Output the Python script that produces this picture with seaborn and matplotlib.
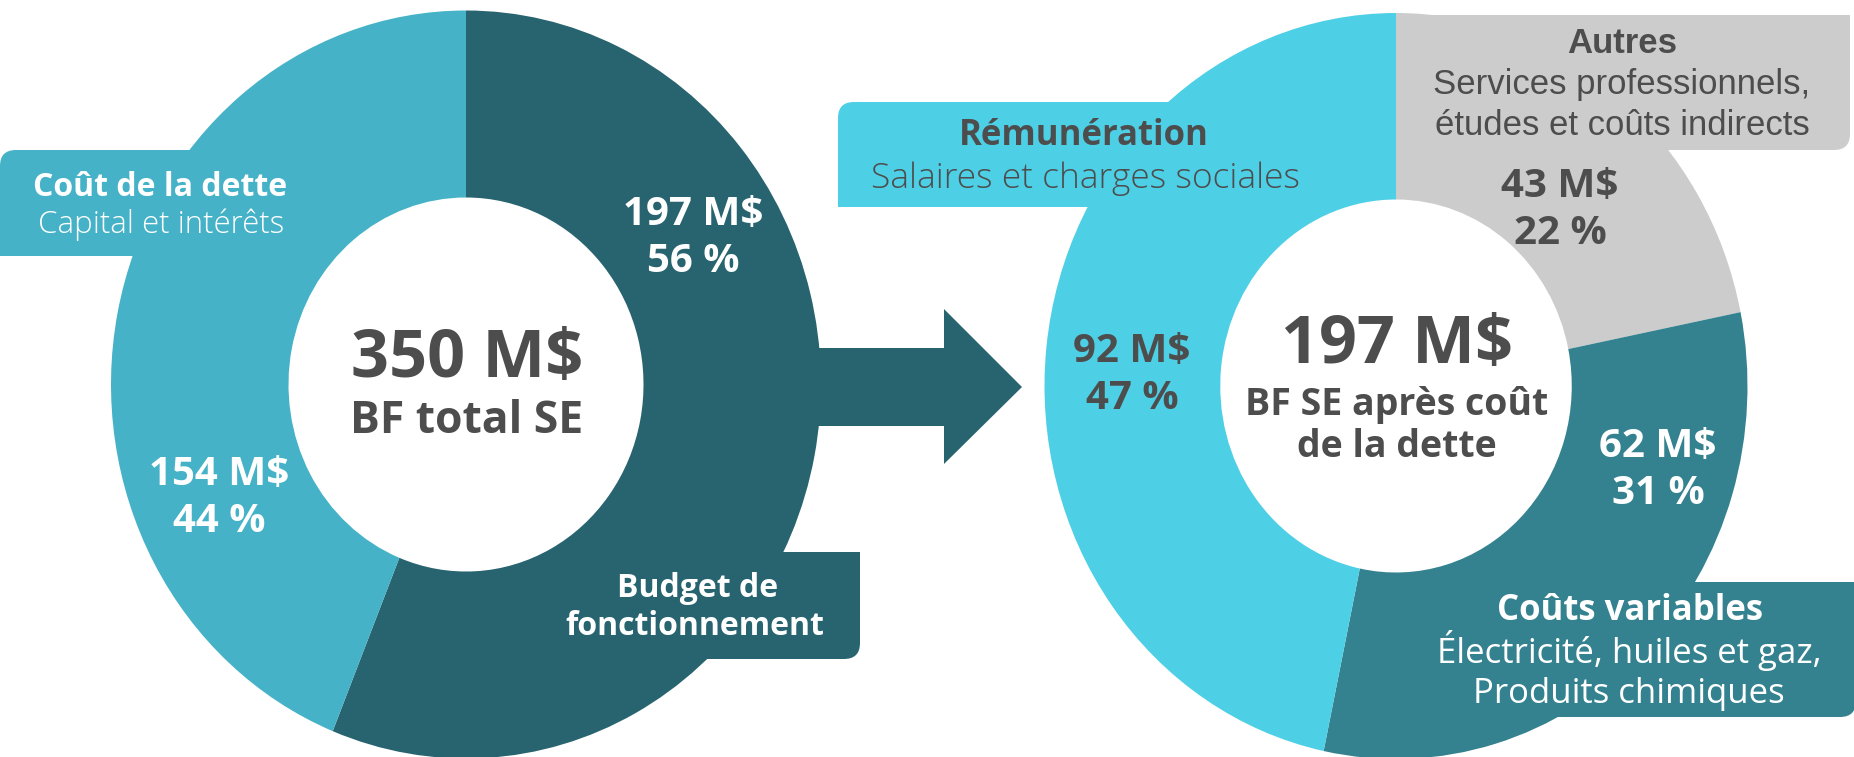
import matplotlib
matplotlib.use("Agg")
import matplotlib.pyplot as plt
import seaborn as sns
from matplotlib.patches import FancyBboxPatch, Rectangle, Polygon

# data
left_names = ["Budget de fonctionnement", "Coût de la dette"]
left_values = [197, 154]
left_pct = [56, 44]
left_total = 350

right_names = ["Autres", "Coûts variables", "Rémunération"]
right_values = [43, 62, 92]
right_pct = [22, 31, 47]
right_total = 197

W, H = 1854, 757
DARK_TXT = "#4d4d4d"

sns.set_theme(style="white")
plt.rcParams["font.family"] = ["Open Sans", "DejaVu Sans"]

left_colors = sns.color_palette(["#28646f", "#45b2c8"])
right_colors = sns.color_palette(["#cccccc", "#34828f", "#4dcfe6"])

fig = plt.figure(figsize=(W / 100, H / 100), dpi=100)
fig.patch.set_facecolor("white")

bg = fig.add_axes([0, 0, 1, 1], zorder=0)
bg.set_xlim(0, W)
bg.set_ylim(H, 0)
bg.axis("off")


def label_box(ax, x0, y0, x1, y1, color, corner, r=16):
    # rounded box with only one rounded corner
    ax.add_patch(FancyBboxPatch((x0, y0), x1 - x0, y1 - y0,
                                boxstyle=f"round,pad=0,rounding_size={r}",
                                fc=color, ec="none"))
    top = corner in ("tl", "tr")
    left = corner in ("tl", "bl")
    ya = y0 + r if top else y0
    ax.add_patch(Rectangle((x0, ya), x1 - x0, y1 - y0 - r, fc=color, ec="none"))
    xa = x0 + r if left else x0
    ax.add_patch(Rectangle((xa, y0), x1 - x0 - r, y1 - y0, fc=color, ec="none"))


label_box(bg, 0, 150, 260, 256, left_colors[1], "tl")
label_box(bg, 650, 552, 860, 659, left_colors[0], "br")
label_box(bg, 838, 102, 1200, 207, right_colors[2], "tl")
label_box(bg, 1396, 15, 1850, 150, right_colors[0], "br")
label_box(bg, 1450, 582, 1856, 717, right_colors[1], "br")


def donut(cx, cy, rx, ry, values, colors):
    ax = fig.add_axes([(cx - rx) / W, (H - cy - ry) / H, 2 * rx / W, 2 * ry / H], zorder=1)
    ax.pie(values, colors=colors, startangle=90, counterclock=False, radius=1,
           wedgeprops=dict(width=0.5, edgecolor="none", linewidth=0))
    ax.set_aspect("auto")
    ax.set_xlim(-1, 1)
    ax.set_ylim(-1, 1)
    ax.axis("off")
    return ax


donut(466, 384.5, 355, 374, left_values, left_colors)
donut(1396, 386, 351.5, 373, right_values, right_colors)

ov = fig.add_axes([0, 0, 1, 1], zorder=2)
ov.set_xlim(0, W)
ov.set_ylim(H, 0)
ov.axis("off")
ov.patch.set_alpha(0)

# arrow between the two donuts
ov.add_patch(Polygon([(815, 348), (944, 348), (944, 309), (1022, 387),
                      (944, 464), (944, 426), (815, 426)],
                     closed=True, fc=left_colors[0], ec="none"))


def txt(x, y, s, size, color, weight="bold", family=None):
    kw = dict(ha="center", va="baseline", fontsize=size, color=color, fontweight=weight)
    if family:
        kw["family"] = family
    ov.text(x, y, s, **kw)


def val_label(x, y, v, p, color):
    txt(x, y, f"{v} M$", 29, color)
    txt(x, y + 47, f"{p} %", 29, color)


# left donut
txt(160, 196, "Coût de la dette", 23, "white")
txt(161, 233, "Capital et intérêts", 22.5, "white", weight="light")
val_label(693, 225, left_values[0], left_pct[0], "white")
val_label(219, 485, left_values[1], left_pct[1], "white")
txt(698, 597, "Budget de", 23, "white")
txt(695, 635, "fonctionnement", 23, "white")
txt(467, 377, f"{left_total} M$", 48, DARK_TXT)
txt(467, 433, "BF total SE", 32, DARK_TXT)

# right donut
arial = ["Liberation Sans", "DejaVu Sans"]
txt(1622, 53, "Autres", 25, DARK_TXT, family=arial)
txt(1622, 94, "Services professionnels,", 25, DARK_TXT, weight="normal", family=arial)
txt(1622, 135, "études et coûts indirects", 25, DARK_TXT, weight="normal", family=arial)
val_label(1560, 197, right_values[0], right_pct[0], DARK_TXT)
val_label(1658, 457, right_values[1], right_pct[1], "white")
val_label(1132, 362, right_values[2], right_pct[2], DARK_TXT)
txt(1084, 145, "Rémunération", 25, DARK_TXT)
txt(1086, 188, "Salaires et charges sociales", 25.5, DARK_TXT, weight="light")
txt(1630, 620, "Coûts variables", 25, "white")
txt(1629, 663, "Électricité, huiles et gaz,", 25, "white", weight="normal")
txt(1629, 703, "Produits chimiques", 25, "white", weight="normal")
txt(1397, 363, f"{right_total} M$", 48, DARK_TXT)
txt(1397, 415, "BF SE après coût", 27, DARK_TXT)
txt(1397, 457, "de la dette", 27, DARK_TXT)

fig.savefig("out.png", dpi=100)
plt.close(fig)
